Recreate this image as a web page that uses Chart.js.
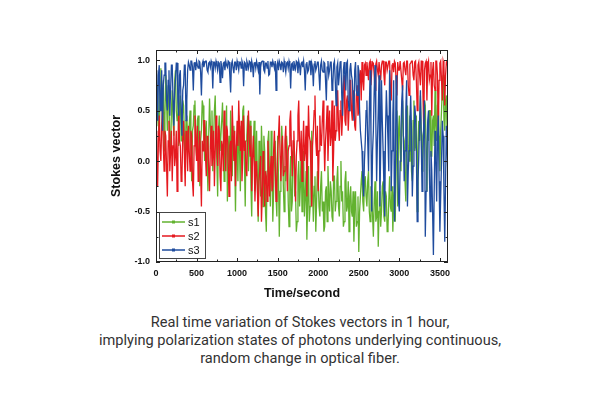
<!DOCTYPE html>
<html>
<head>
<meta charset="utf-8">
<script src="https://cdn.jsdelivr.net/npm/chart.js@4.4.1/dist/chart.umd.min.js"></script>
<style>
  html, body { margin: 0; padding: 0; background: #fff; }
  #wrap { position: absolute; left: 0; top: 0; width: 600px; height: 310px; }
  #caption {
    position: absolute; left: 0; top: 313px; width: 600px;
    text-align: center; font-family: Roboto, "DejaVu Sans", sans-serif;
    font-size: 14.6px; line-height: 18px; color: #333;
  }
</style>
</head>
<body>
<div id="wrap"><canvas id="chart"></canvas></div>
<div id="caption">Real time variation of Stokes vectors in 1 hour,<br>implying polarization states of photons underlying continuous,<br>random change in optical fiber.</div>
<script>
// sampling step of the recording, in seconds
var STEP = 10;

var xTicks = [0, 500, 1000, 1500, 2000, 2500, 3000, 3500];
var yTicks = [-1.0, -0.5, 0.0, 0.5, 1.0];
var seriesNames = ['s1', 's2', 's3'];
var seriesColors = ['#62b22f', '#e5191f', '#1f4c9e'];

// one row = 200 s
var s1 = [
  0.35, 0.6, 0.75, 0.4, 0.2, 0.7, 0.92, 0.55, 0.5, 0.8, 0.1, 0.45, 0.85, 0.6, 0.3, 0.75, 0.6, 0.2, 0.05, 0.5,
  0.7, 0.4, 0.25, 0.8, 0.9, 0.5, 0.4, 0.7, 0.15, 0.55, 0.65, 0.2, 0.3, 0.6, 0.55, 0.25, 0.0, 0.4, 0.45, 0.2,
  0.1, 0.35, 0.5, 0.15, -0.2, 0.3, 0.35, 0.55, 0.6, 0.2, 0.05, 0.4, 0.45, 0.1, -0.25, 0.2, 0.3, 0.6, 0.55, 0.25,
  0.0, 0.3, 0.4, 0.05, -0.3, 0.25, 0.62, 0.35, 0.15, 0.5, -0.1, 0.2, 0.5, 0.65, 0.2, 0.0, -0.35, 0.3, 0.45, 0.1,
  0.1, 0.4, 0.58, 0.25, -0.2, 0.15, 0.3, 0.55, -0.4, 0.1, 0.25, -0.1, 0.5, 0.2, -0.15, 0.3, 0.35, 0.05, -0.5, 0.15,
  0.2, -0.2, 0.45, 0.1, -0.3, 0.35, 0.1, 0.5, 0.55, 0.0, -0.45, 0.2, 0.25, 0.45, -0.1, 0.3, 0.4, -0.25, -0.55, 0.05,
  0.15, 0.4, -0.3, 0.0, 0.3, -0.2, -0.6, 0.2, 0.05, -0.35, 0.35, 0.1, -0.45, 0.25, 0.1, -0.5, -0.7, -0.1, 0.2, 0.3,
  -0.2, -0.45, 0.3, 0.0, -0.6, -0.3, 0.0, 0.2, -0.35, -0.55, 0.25, -0.15, -0.75, -0.3, -0.1, 0.35, 0.15, -0.25, -0.5, -0.05,
  -0.2, 0.25, 0.1, -0.4, -0.65, -0.2, 0.05, -0.5, -0.4, 0.1, 0.2, -0.35, -0.3, -0.7, -0.6, -0.15, 0.0, -0.45, -0.25, 0.15,
  -0.5, -0.2, 0.1, -0.55, -0.35, -0.1, -0.78, -0.4, -0.05, -0.6, -0.45, -0.2, 0.3, -0.3, -0.6, -0.25, -0.15, -0.7, -0.4, -0.1,
  -0.2, -0.45, -0.55, -0.25, -0.1, -0.5, -0.4, -0.7, -0.65, -0.3, -0.25, -0.6, -0.05, -0.35, -0.5, -0.2, -0.3, -0.55, -0.6, -0.15,
  -0.15, -0.5, -0.4, -0.2, -0.05, -0.45, -0.55, -0.25, 0.0, -0.4, -0.3, -0.65, -0.6, -0.2, -0.1, -0.5, -0.45, -0.2, -0.7, -0.35,
  -0.25, -0.5, -0.55, -0.3, -0.8, -0.45, -0.3, -0.65, -0.6, -0.35, -0.9, -0.5, -0.35, -0.2, -0.1, -0.4, -0.5, -0.2, -0.15, -0.35,
  -0.45, -0.2, -0.1, -0.5, -0.6, -0.25, -0.3, -0.55, -0.75, -0.4, -0.2, -0.6, -0.55, -0.3, -0.85, -0.5, -0.3, -0.65, -0.5, -0.25,
  -0.2, -0.55, -0.6, -0.3, -0.35, -0.7, -0.65, -0.4, -0.15, -0.45, -0.5, -0.25, -0.7, -0.4, -0.3, -0.6, 0.1, 0.5, -0.45, 0.3,
  0.45, 0.1, -0.1, 0.4, 0.6, 0.25, 0.2, -0.2, -0.4, 0.3, 0.55, 0.15, 0.0, 0.45, 0.35, -0.1, -0.2, 0.4, 0.6, 0.1,
  0.15, 0.45, -0.5, 0.1, 0.4, 0.2, 0.65, 0.3, -0.1, 0.25, 0.3, 0.6, 0.55, 0.1, -0.3, 0.35, 0.2, 0.5, 0.5, 0.05,
  0.05, 0.4, 0.45, 0.15, 0.7, 0.35, 0.2, 0.55, 0.6, 0.25, -0.1, 0.3, 0.5, 0.75, 0.85, 0.4, 0.3, 0.6, 0.65, 0.2,
  0.4
];

var s2 = [
  0.3, 0.05, -0.25, 0.2, 0.45, 0.1, 0.0, 0.35, 0.55, 0.15, -0.1, 0.3, 0.25, -0.05, -0.35, 0.2, 0.4, -0.1, 0.1, 0.3,
  -0.2, 0.15, 0.35, -0.05, 0.05, 0.3, -0.3, 0.1, 0.5, 0.2, 0.15, -0.2, -0.15, 0.25, 0.4, 0.05, -0.25, 0.3, 0.2, -0.1,
  0.35, 0.1, -0.1, 0.3, 0.25, -0.2, -0.35, 0.15, 0.45, 0.2, 0.0, 0.35, -0.2, 0.1, 0.3, -0.1, -0.45, 0.2, 0.1, 0.4,
  0.4, 0.05, -0.15, 0.25, 0.2, -0.1, -0.3, 0.15, 0.35, -0.05, 0.05, 0.3, -0.25, 0.1, 0.45, 0.15, -0.05, 0.35, 0.3, -0.15,
  -0.3, 0.2, 0.15, -0.1, 0.5, 0.25, -0.1, 0.35, 0.3, 0.0, -0.35, 0.15, 0.2, -0.2, 0.55, 0.25, 0.0, 0.3, -0.25, 0.1,
  0.4, 0.15, 0.6, 0.3, 0.1, 0.4, -0.2, 0.05, 0.45, 0.1, 0.2, -0.1, -0.15, 0.3, 0.5, 0.2, 0.05, 0.35, -0.3, 0.0,
  0.25, 0.0, -0.4, -0.1, 0.0, -0.3, -0.55, -0.2, -0.2, 0.05, -0.6, -0.35, 0.1, -0.15, -0.45, -0.1, -0.15, -0.4, 0.2, -0.05,
  -0.35, -0.1, 0.05, -0.3, -0.25, 0.1, 0.3, -0.05, -0.4, -0.2, 0.1, 0.25, 0.45, 0.05, -0.2, 0.15, 0.25, -0.15, -0.1, 0.2,
  0.35, 0.0, -0.3, 0.1, 0.15, 0.4, 0.5, 0.1, -0.15, 0.2, 0.3, -0.05, -0.4, 0.05, 0.2, 0.45, 0.6, 0.15, 0.0, 0.3,
  -0.2, 0.15, 0.4, 0.0, 0.1, 0.35, -0.35, 0.05, 0.55, 0.25, 0.2, -0.1, -0.45, 0.15, 0.3, 0.5, 0.65, 0.2, 0.05, 0.35,
  -0.3, 0.1, 0.45, 0.2, 0.15, 0.4, 0.6, 0.25, -0.1, 0.2, 0.35, 0.55, 0.0, 0.3, 0.5, 0.15, 0.25, 0.6, -0.2, 0.1,
  0.55, 0.2, 0.3, 0.6, 0.7, 0.35, 0.2, 0.5, 0.6, 0.25, 0.45, 0.75, 0.85, 0.4, 0.35, 0.6, 0.65, 0.3, 0.5, 0.8,
  0.8, 0.5, 0.4, 0.7, 0.6, 0.35, 0.3, 0.65, 0.75, 0.45, 0.5, 0.85, 0.9, 0.6, 0.98, 0.8, 0.7, 0.95, 0.97, 0.85,
  0.98, 0.9, 0.8, 0.97, 0.99, 0.75, 0.9, 0.98, 0.97, 0.85, 0.7, 0.96, 0.99, 0.9, 0.85, 0.98, 0.98, 0.8, 0.95, 0.99,
  0.99, 0.85, 0.75, 0.98, 0.98, 0.9, 0.9, 0.99, 0.99, 0.7, 0.6, 0.95, 0.97, 0.88, 0.99, 0.97, 0.8, 0.65, 0.98, 0.9,
  0.9, 0.99, 0.99, 0.8, 0.7, 0.97, 0.98, 0.9, 0.85, 0.99, 0.99, 0.75, 0.65, 0.96, 0.97, 0.99, 0.99, 0.85, 0.8, 0.98,
  0.99, 0.8, 0.5, 0.95, 0.98, 0.85, 0.75, 0.99, 0.99, 0.7, 0.35, 0.9, 0.97, 0.99, 0.6, 0.95, 0.99, 0.8, 0.85, 0.98,
  0.45, 0.9, 0.98, 0.75, 0.7, 0.99, 0.99, 0.85, 0.3, 0.8, 0.97, 0.99, 0.8, 0.6, 0.99, 0.95, 0.55, 0.85, 0.98, 0.99,
  0.9
];

var s3 = [
  0.9, 0.7, 0.4, 0.85, 0.95, 0.5, 0.6, 0.9, 0.3, 0.75, 0.85, 0.97, 0.97, 0.6, 0.5, 0.8, 0.9, 0.45, 0.7, 0.95,
  0.95, 0.6, 0.35, 0.7, 0.8, 0.97, 0.97, 0.6, 0.45, 0.85, 0.9, 0.5, 0.25, 0.7, 0.75, 0.95, 0.95, 0.4, 0.6, 0.9,
  0.98, 0.95, 0.9, 0.99, 0.99, 0.93, 0.7, 0.97, 0.98, 0.9, 0.99, 0.95, 0.92, 0.99, 0.98, 0.88, 0.65, 0.96, 0.99, 0.93,
  0.97, 0.99, 0.99, 0.9, 0.88, 0.97, 0.98, 0.93, 0.99, 0.96, 0.72, 0.98, 0.98, 0.92, 0.99, 0.95, 0.9, 0.98, 0.97, 0.78,
  0.99, 0.93, 0.82, 0.97, 0.98, 0.9, 0.99, 0.95, 0.93, 0.99, 0.98, 0.85, 0.68, 0.96, 0.99, 0.92, 0.87, 0.98, 0.98, 0.9,
  0.99, 0.95, 0.9, 0.98, 0.98, 0.92, 0.99, 0.96, 0.74, 0.98, 0.97, 0.9, 0.99, 0.96, 0.92, 0.99, 0.98, 0.88, 0.99, 0.95,
  0.83, 0.97, 0.98, 0.92, 0.99, 0.95, 0.9, 0.98, 0.66, 0.93, 0.98, 0.99, 0.99, 0.9, 0.88, 0.97, 0.97, 0.92, 0.99, 0.85,
  0.86, 0.98, 0.98, 0.93, 0.99, 0.96, 0.92, 0.99, 0.7, 0.95, 0.98, 0.9, 0.99, 0.96, 0.9, 0.98, 0.97, 0.88, 0.99, 0.94,
  0.88, 0.97, 0.98, 0.92, 0.99, 0.95, 0.72, 0.96, 0.97, 0.9, 0.99, 0.94, 0.91, 0.99, 0.98, 0.87, 0.99, 0.95, 0.85, 0.97,
  0.98, 0.93, 0.99, 0.9, 0.7, 0.96, 0.98, 0.88, 0.9, 0.99, 0.99, 0.85, 0.97, 0.93, 0.74, 0.96, 0.99, 0.9, 0.93, 0.98,
  0.98, 0.85, 0.7, 0.95, 0.99, 0.9, 0.88, 0.98, 0.97, 0.8, 0.6, 0.93, 0.99, 0.85, 0.9, 0.98, 0.98, 0.7, 0.75, 0.96,
  0.99, 0.8, 0.55, 0.93, 0.97, 0.75, 0.85, 0.98, 0.99, 0.65, 0.45, 0.9, 0.98, 0.8, 0.7, 0.97, 0.99, 0.6, 0.5, 0.9,
  0.97, 0.85, 0.8, 0.6, 0.4, 0.9, 0.98, 0.7, 0.65, 0.95, 0.9, 0.5, 0.3, 0.2, 0.1, -0.2, -0.35, 0.0, 0.2, 0.5,
  0.6, 0.2, -0.1, 0.5, 0.9, 0.3, -0.5, 0.1, 0.3, 0.7, 0.95, 0.4, -0.2, 0.2, 0.5, 0.85, -0.45, 0.1, 0.8, 0.4,
  0.1, -0.25, -0.55, 0.3, 0.7, 0.45, 0.2, -0.1, 0.9, 0.6, -0.3, 0.1, 0.45, 0.8, -0.6, -0.2, 0.85, 0.5, 0.0, -0.4,
  -0.5, 0.0, 0.3, 0.6, 0.75, 0.2, -0.2, 0.1, 0.5, 0.8, -0.45, -0.1, 0.1, 0.4, 0.65, 0.3, -0.35, -0.05, 0.2, 0.55,
  0.45, 0.1, -0.6, -0.2, 0.05, 0.4, 0.7, 0.2, -0.3, 0.0, 0.35, 0.6, -0.75, -0.3, 0.1, 0.4, 0.5, -0.1, -0.5, 0.1,
  -0.1, -0.5, -0.93, -0.3, 0.3, 0.0, -0.4, 0.2, 0.45, -0.2, -0.7, -0.35, 0.0, 0.4, 0.25, -0.3, -0.8, -0.2, 0.35, 0.1,
  -0.2
];

function toPoints(vals) {
  return vals.map(function (v, i) { return { x: i * STEP, y: v }; });
}

// frame + inward ticks on all four sides, like the original plot
var framePlugin = {
  id: 'frame',
  afterDatasetsDraw: function (chart) {
    var c = chart.ctx, a = chart.chartArea;
    var xs = chart.scales.x, ys = chart.scales.y;
    c.save();
    c.strokeStyle = '#222';
    c.lineWidth = 1;
    c.strokeRect(a.left + 0.5, a.top + 0.5, a.right - a.left - 1, a.bottom - a.top - 1);
    c.beginPath();
    for (var t = 0; t <= 3600; t += 250) {
      var px = Math.round(xs.getPixelForValue(t)) + 0.5;
      var len = t % 500 === 0 ? 4 : 2.5;
      c.moveTo(px, a.bottom); c.lineTo(px, a.bottom - len);
      c.moveTo(px, a.top); c.lineTo(px, a.top + len);
    }
    for (var k = -4; k <= 4; k++) {
      var py = Math.round(ys.getPixelForValue(k * 0.25)) + 0.5;
      var l2 = k % 2 === 0 ? 4 : 2.5;
      c.moveTo(a.left, py); c.lineTo(a.left + l2, py);
      c.moveTo(a.right, py); c.lineTo(a.right - l2, py);
    }
    c.stroke();

    // legend box, lower left inside the plot
    var bx = a.left + 3, by = a.bottom - 50, bw = 46, bh = 46;
    c.fillStyle = '#fff';
    c.fillRect(bx, by, bw, bh);
    c.strokeStyle = '#444';
    c.strokeRect(bx + 0.5, by + 0.5, bw, bh);
    c.font = '11px "Liberation Sans", Arial, sans-serif';
    c.textBaseline = 'middle';
    for (var i = 0; i < seriesNames.length; i++) {
      var ly = by + 10 + i * 14;
      c.strokeStyle = seriesColors[i];
      c.lineWidth = 1.5;
      c.beginPath(); c.moveTo(bx + 3, ly); c.lineTo(bx + 26, ly); c.stroke();
      c.fillStyle = seriesColors[i];
      c.fillRect(bx + 13, ly - 1.5, 3, 3);
      c.fillStyle = '#111';
      c.fillText(seriesNames[i], bx + 29, ly + 0.5);
    }
    c.restore();
  }
};

var ctx = document.getElementById('chart').getContext('2d');
var chart = new Chart(ctx, {
  type: 'line',
  data: {
    datasets: [
      { label: 's1', data: toPoints(s1), borderColor: seriesColors[0], order: 3 },
      { label: 's2', data: toPoints(s2), borderColor: seriesColors[1], order: 2 },
      { label: 's3', data: toPoints(s3), borderColor: seriesColors[2], order: 1 }
    ]
  },
  options: {
    responsive: true,
    maintainAspectRatio: false,
    animation: false,
    elements: {
      line: { borderWidth: 1.3, tension: 0 },
      point: { radius: 0 }
    },
    layout: { padding: { left: 100, right: 152, top: 50, bottom: 0 } },
    plugins: { legend: { display: false }, tooltip: { enabled: false } },
    scales: {
      x: {
        type: 'linear', min: 0, max: 3600,
        grid: { display: false, drawTicks: false },
        border: { display: false },
        afterBuildTicks: function (s) { s.ticks = xTicks.map(function (v) { return { value: v }; }); },
        ticks: { padding: 6, color: '#111', maxRotation: 0,
          callback: function (v) { return String(v); },
          font: { family: '"Liberation Sans", Arial, sans-serif', size: 9, weight: 'bold' } },
        title: { display: true, text: 'Time/second', color: '#111', padding: { top: 0, bottom: 9 },
          font: { family: '"Liberation Sans", Arial, sans-serif', size: 12.5, weight: 'bold' } },
        afterFit: function (s) { s.height = 48; }
      },
      y: {
        min: -1.0, max: 1.1,
        grid: { display: false, drawTicks: false },
        border: { display: false },
        afterBuildTicks: function (s) { s.ticks = yTicks.map(function (v) { return { value: v }; }); },
        ticks: { padding: 6, color: '#111',
          callback: function (v) { return Number(v).toFixed(1); },
          font: { family: '"Liberation Sans", Arial, sans-serif', size: 9, weight: 'bold' } },
        title: { display: true, text: 'Stokes vector', color: '#111', padding: { top: 9, bottom: 0 },
          font: { family: '"Liberation Sans", Arial, sans-serif', size: 12.5, weight: 'bold' } },
        afterFit: function (s) { s.width = 56; }
      }
    }
  },
  plugins: [framePlugin]
});
</script>
</body>
</html>
